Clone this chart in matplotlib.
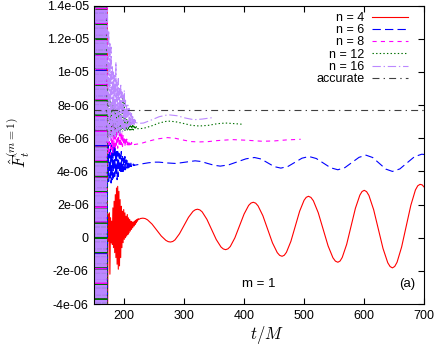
import numpy as np
import matplotlib
matplotlib.use('Agg')
import matplotlib.pyplot as plt

plt.rcParams['font.family'] = ['Liberation Sans', 'DejaVu Sans']
plt.rcParams['mathtext.fontset'] = 'cm'
plt.rcParams['lines.scale_dashes'] = False

# ---------------- data (values in units of 1e-6) ----------------
# start-up block: all runs swing far beyond the axes for t/M < 172
t_block = np.arange(150, 172)
block_a = [16, -6, 16, -6, 16, -6, 16, -6, 16, -6, 16, -6, 16, -6, 16, -6, 16, -6, 16, -6, 16, -6]
block_b = [-6, 16, -6, 16, -6, 16, -6, 16, -6, 16, -6, 16, -6, 16, -6, 16, -6, 16, -6, 16, -6, 16]

# n = 4
n4_noise = [-6.0, 1.4, -0.2, 1.5, -2.2, 1.2, -0.3, 1.0, -0.4, 1.8,
            -0.6, 2.2, -0.9, 2.6, -1.2, 3.0, -1.6, 3.1, -1.9, 2.8,
            -1.7, 2.3, -1.2, 1.9, -0.6, 1.6, -0.3, 1.7, -0.1, 1.5,
            0.0, 1.3, 0.1, 1.4, 0.2, 1.2, 0.3, 1.1, 0.4, 1.0,
            0.5, 0.95, 0.6, 0.95, 0.7, 1.0, 0.8, 1.05, 0.9, 1.1,
            1.0, 1.15, 1.1]
n4_t = [227, 231, 234.8, 238.7, 246.3, 254, 261.7, 269.3, 273.2, 277,
        280.8, 284.5, 292, 299.5, 307, 314.5, 318.3, 322, 325.9, 329.8,
        337.7, 345.5, 353.3, 361.2, 365.1, 369, 372.8, 376.7, 384.3, 392,
        399.7, 407.3, 411.2, 415, 419, 423, 431, 439, 447, 455,
        459, 463, 466.7, 470.3, 477.7, 485, 492.3, 499.7, 503.3, 507,
        511.1, 515.2, 523.3, 531.5, 539.7, 547.8, 551.9, 556, 559.7, 563.3,
        570.7, 578, 585.3, 592.7, 596.3, 600, 603.9, 607.8, 615.7, 623.5,
        631.3, 639.2, 643.1, 647, 650.8, 654.7, 662.3, 670, 677.7, 685.3,
        689.2, 693, 696.5, 700]
n4_v = [1.16, 1.18, 1.156, 1.08, 0.82, 0.46, 0.10, -0.16, -0.236, -0.26,
        -0.226, -0.13, 0.24, 0.73, 1.23, 1.59, 1.686, 1.72, 1.679, 1.56,
        1.11, 0.50, -0.11, -0.56, -0.679, -0.72, -0.671, -0.53, -0.01, 0.71,
        1.43, 1.95, 2.091, 2.14, 2.085, 1.92, 1.33, 0.51, -0.31, -0.90,
        -1.065, -1.12, -1.058, -0.88, -0.22, 0.69, 1.60, 2.26, 2.438, 2.50,
        2.432, 2.23, 1.51, 0.51, -0.49, -1.21, -1.412, -1.48, -1.406, -1.19,
        -0.40, 0.69, 1.78, 2.57, 2.786, 2.86, 2.78, 2.55, 1.69, 0.52,
        -0.65, -1.51, -1.74, -1.82, -1.734, -1.48, -0.56, 0.70, 1.96, 2.88,
        3.134, 3.22, 3.19, 3.05]

# n = 6
n6_noise = [3.2, 5.9, 3.4, 5.8, 3.6, 5.7, 3.3, 5.6, 3.5, 5.5,
            3.6, 5.6, 3.7, 5.4, 3.8, 5.3, 3.5, 5.2, 3.7, 5.1,
            3.9, 5.0, 3.9, 5.2, 4.0, 4.9, 4.0, 4.8, 4.1, 4.9,
            4.1, 4.7, 4.2, 4.7, 4.2, 4.6, 4.25, 4.55, 4.3, 4.5,
            4.3, 4.45, 4.35, 4.45, 4.35, 4.4, 4.38]
n6_t = [221, 230, 240, 250, 258, 272, 286, 302, 318, 328,
        339, 350, 360, 374.3, 388.5, 402.8, 417, 428, 439, 450,
        461, 472.8, 484.5, 496.3, 508, 520, 532, 544, 556, 567.8,
        579.5, 591.3, 603, 614, 625, 636, 647, 659.3, 671.5, 683.8,
        696, 700]
n6_v = [4.40, 4.46, 4.52, 4.56, 4.56, 4.51, 4.48, 4.56, 4.64, 4.60,
        4.48, 4.37, 4.32, 4.40, 4.58, 4.76, 4.84, 4.75, 4.52, 4.29,
        4.20, 4.30, 4.55, 4.80, 4.90, 4.78, 4.50, 4.22, 4.10, 4.23,
        4.54, 4.85, 4.98, 4.84, 4.49, 4.14, 4.00, 4.15, 4.52, 4.89,
        5.04, 5.02]

# n = 8
n8_noise = [7.8, 5.0, 7.5, 5.2, 7.6, 5.0, 7.2, 5.3, 7.0, 5.1,
            7.1, 5.4, 6.8, 5.3, 6.9, 5.5, 6.6, 5.4, 6.7, 5.6,
            6.5, 5.5, 6.4, 5.6, 6.3, 5.5, 6.2, 5.6, 6.1, 5.5,
            6.0, 5.6, 5.95, 5.6, 5.9, 5.6, 5.85, 5.6, 5.8, 5.62,
            5.75, 5.62, 5.7]
n8_t = [216, 227, 240, 255, 272, 285, 300, 312, 325, 340, 355, 380, 405, 430, 450, 470, 494]
n8_v = [5.62, 5.68, 5.82, 5.96, 6.04, 6.00, 5.88, 5.80, 5.78, 5.80, 5.86, 5.92, 5.88, 5.82, 5.84, 5.90, 5.94]

# n = 12
n12_noise = [9.0, 6.0, 8.6, 6.2, 8.4, 6.0, 8.2, 6.3, 8.0, 6.1,
             8.1, 6.3, 7.9, 6.2, 7.8, 6.4, 7.7, 6.3, 7.6, 6.4,
             7.8, 6.4, 7.5, 6.5, 7.4, 6.4, 8.6, 6.5, 8.4, 6.4,
             7.3, 6.5, 7.2, 6.5, 7.1, 6.5, 7.0, 6.5, 6.95, 6.5,
             6.9, 6.5, 6.85, 6.5, 6.8, 6.55, 6.75, 6.55, 6.7, 6.58]
n12_t = [224, 232, 245, 258, 272, 285, 298, 312, 325, 340, 355, 369, 385, 399]
n12_v = [6.58, 6.60, 6.74, 6.92, 7.04, 7.00, 6.90, 6.78, 6.74, 6.78, 6.88, 6.92, 6.88, 6.84]

# n = 16
n16_noise = [14.0, 5.8, 12.5, 6.0, 11.8, 5.9, 11.5, 6.1, 10.4, 6.0,
             10.0, 6.2, 9.8, 6.1, 10.6, 6.3, 9.4, 6.2, 9.6, 6.4,
             9.0, 6.3, 9.3, 6.5, 8.8, 6.4, 8.6, 6.6, 8.9, 6.5,
             8.3, 6.7, 8.1, 6.6, 8.0, 6.7, 7.8, 6.7, 7.6, 6.8,
             7.5, 6.8, 7.4, 6.85, 7.25, 6.85, 7.1, 6.9, 7.0, 6.92]
n16_t = [224, 232, 245, 258, 273, 288, 302, 316, 330, 342, 350]
n16_v = [6.90, 6.92, 7.10, 7.30, 7.42, 7.36, 7.22, 7.12, 7.16, 7.22, 7.26]

# accurate value
acc_t = [150, 700]
acc_v = [7.68, 7.68]

ytick_vals = [-4, -2, 0, 2, 4, 6, 8, 10, 12, 14]
ytick_labels = ['-4e-06', '-2e-06', '0', '2e-06', '4e-06', '6e-06', '8e-06', '1e-05', '1.2e-05', '1.4e-05']
xtick_vals = [200, 300, 400, 500, 600, 700]


def series(block, noise, t_s, v_s):
    t = np.concatenate([t_block, np.arange(172, 172 + len(noise)), t_s])
    v = np.concatenate([block, noise, v_s])
    return t, v


fig = plt.figure(figsize=(4.36, 3.45), dpi=100)
ax = fig.add_axes([0.2163, 0.1188, 0.7567, 0.8647])

lw = 0.8
t, v = series(block_b, n4_noise, n4_t, n4_v)
ax.plot(t, v, color='#ff0000', lw=lw, label='n = 4')
t, v = series(block_a, n6_noise, n6_t, n6_v)
ax.plot(t, v, color='#0000ff', lw=lw, dashes=(6, 3), label='n = 6')
t, v = series(block_b, n8_noise, n8_t, n8_v)
ax.plot(t, v, color='#ff00ff', lw=lw, dashes=(3, 3), label='n = 8')
t, v = series(block_a, n12_noise, n12_t, n12_v)
ax.plot(t, v, color='#007000', lw=lw, dashes=(1, 1.6), label='n = 12')
t, v = series(block_b, n16_noise, n16_t, n16_v)
ax.plot(t, v, color='#bb88ff', lw=lw, dashes=(6, 2, 1, 2), label='n = 16')
ax.plot(acc_t, acc_v, color='#404040', lw=lw, dashes=(5, 3, 1, 3), label='accurate')

ax.set_xlim(150, 700)
ax.set_ylim(-4, 14)
ax.set_xticks(xtick_vals)
ax.set_yticks(ytick_vals)
ax.set_yticklabels(ytick_labels)
ax.tick_params(direction='in', top=True, right=True, length=4, width=0.8,
               labelsize=9, pad=4)
for s in ax.spines.values():
    s.set_linewidth(0.8)

ax.set_xlabel(r'$t/M$', fontsize=12)
ax.xaxis.set_label_coords(0.523, -0.068)
ax.set_ylabel(r'$\hat{F}_t^{(m=1)}$', fontsize=12)
ax.yaxis.set_label_coords(-0.19, 0.54)

ax.text(0.497, 0.066, 'm = 1', transform=ax.transAxes, ha='center', va='center', fontsize=9.5)
ax.text(0.947, 0.066, '(a)', transform=ax.transAxes, ha='center', va='center', fontsize=9.5)

leg = ax.legend(loc='upper right', bbox_to_anchor=(0.97, 1.0), frameon=False,
                markerfirst=False, fontsize=9,
                handlelength=2.9, handletextpad=0.6, labelspacing=0.02,
                borderaxespad=0.3, borderpad=0.2)

fig.savefig('out.png', dpi=100)
